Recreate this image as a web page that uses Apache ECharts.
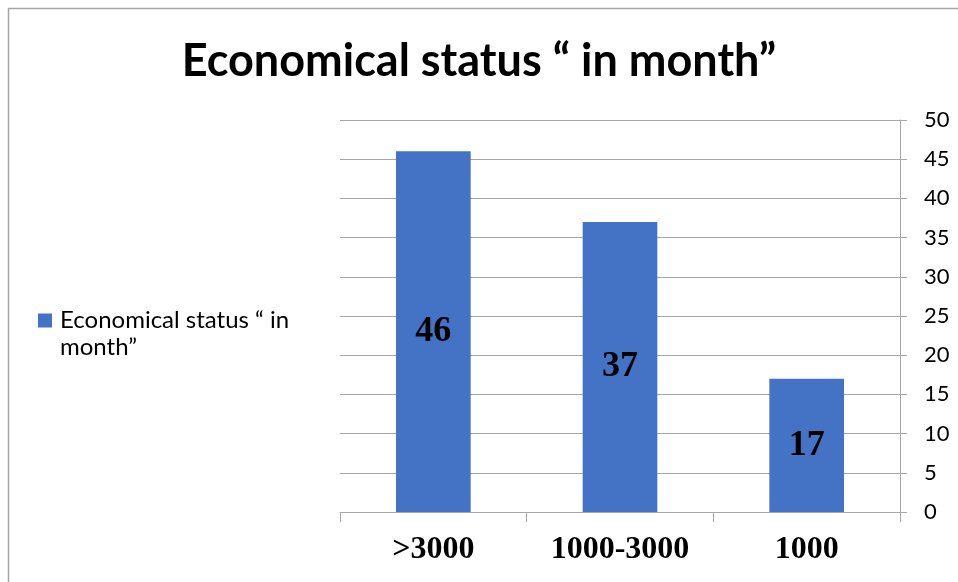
<!DOCTYPE html>
<html>
<head>
<meta charset="utf-8">
<script src="https://cdn.jsdelivr.net/npm/echarts@6/dist/echarts.min.js"></script>
<style>
  html, body { margin: 0; padding: 0; background: #fff; }
  #chart { width: 958px; height: 582px; }
</style>
</head>
<body>
<div id="chart"></div>
<script>
// Monthly income groups and their share
const categories = ['>3000', '1000-3000', '1000'];
const values = [46, 37, 17];
const yTicks = { min: 0, max: 50, interval: 5 };
const seriesName = 'Economical status “ in month”';
const titleText = 'Economical status “ in month”';

const chart = echarts.init(document.getElementById('chart'), null, { renderer: 'canvas' });

const gridColor = '#a6a6a6';
const sansFont = 'Lato, "Open Sans", sans-serif';
const serifFont = '"Liberation Serif", "DejaVu Serif", serif';

chart.setOption({
  backgroundColor: '#ffffff',
  animation: false,
  title: {
    text: titleText,
    left: 'center',
    top: 34,
    textStyle: { fontFamily: sansFont, fontWeight: 'bold', fontSize: 45, color: '#000' }
  },
  legend: {
    left: 38,
    top: 280,
    padding: 0,
    orient: 'vertical',
    icon: 'rect',
    itemWidth: 14,
    itemHeight: 14,
    itemGap: 6,
    data: [seriesName],
    // first line blank so the swatch sits beside the first text row
    formatter: () => '\nEconomical status “ in\nmonth”',
    textStyle: { fontFamily: sansFont, fontSize: 24, color: '#000', lineHeight: 27, padding: [0, 0, 0, 3] }
  },
  grid: { left: 340, right: 58, top: 120, bottom: 70, containLabel: false },
  xAxis: {
    type: 'category',
    data: categories,
    axisLine: { show: true, lineStyle: { color: gridColor, width: 1 } },
    axisTick: { show: true, alignWithLabel: false, length: 10, lineStyle: { color: gridColor } },
    axisLabel: { fontFamily: serifFont, fontWeight: 'bold', fontSize: 32, color: '#000', margin: 22 }
  },
  yAxis: {
    type: 'value',
    position: 'right',
    min: yTicks.min,
    max: yTicks.max,
    interval: yTicks.interval,
    axisLine: { show: true, lineStyle: { color: gridColor, width: 1 } },
    axisTick: { show: true, inside: false, length: 7, lineStyle: { color: gridColor } },
    splitLine: { show: true, lineStyle: { color: gridColor, width: 1 } },
    axisLabel: { fontFamily: sansFont, fontSize: 22, color: '#000', margin: 24 }
  },
  series: [{
    name: seriesName,
    type: 'bar',
    data: values,
    barWidth: '40%',
    itemStyle: { color: '#4472C4' },
    label: {
      show: true,
      position: 'inside',
      fontFamily: serifFont,
      fontWeight: 'bold',
      fontSize: 36,
      color: '#000'
    }
  }],
  graphic: [{
    type: 'rect',
    silent: true,
    shape: { x: 8.5, y: 8.5, width: 1000, height: 700 },
    style: { fill: 'none', stroke: '#a6a6a6', lineWidth: 1.5 }
  }]
});
</script>
</body>
</html>
